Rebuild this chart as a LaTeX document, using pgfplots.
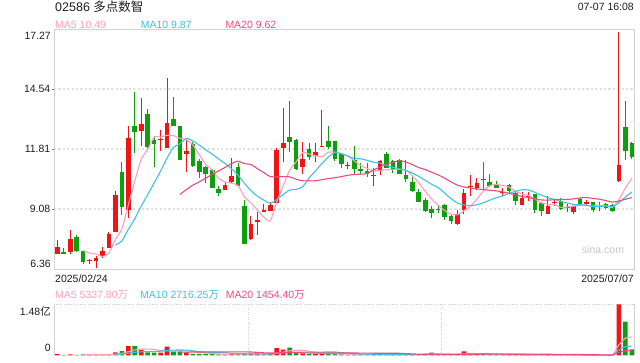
\documentclass[border=0pt]{standalone}
\usepackage{fontspec}
\setmainfont{Liberation Sans}
\newfontfamily\cjk{Noto Sans CJK SC}
\usepackage{pgfplots}
\usepackage{pgfplotstable}
\pgfplotsset{compat=1.18}
\definecolor{cup}{RGB}{240,20,20}
\definecolor{cdn}{RGB}{12,160,12}
\definecolor{cma5}{RGB}{255,160,185}
\definecolor{cma10}{RGB}{60,195,225}
\definecolor{cma20}{RGB}{235,75,125}
\definecolor{cframe}{RGB}{210,210,210}
\definecolor{cgrid}{RGB}{225,225,225}
\definecolor{ctxt}{RGB}{30,30,30}
\newcommand{\lf}{\fontsize{10.5}{12}\selectfont}

% up candles (close >= open): index open high low close
\pgfplotstableread{
i o h l c
0 7.06 7.67 7.05 7.36
2 7.15 8.15 7.06 7.72
5 6.72 6.82 6.57 6.76
6 6.72 6.94 6.42 6.85
7 6.97 7.36 6.85 7.18
8 7.33 8.03 7.30 7.97
9 8.06 9.91 8.03 9.72
11 9.03 12.87 8.67 12.30
13 12.63 14.15 11.94 12.97
16 12.24 12.66 11.72 12.27
17 11.85 15.05 11.85 13.00
20 11.60 12.30 10.76 11.72
26 9.94 10.33 9.94 10.18
27 10.30 11.42 10.27 10.57
30 7.72 8.78 7.70 8.42
31 8.51 8.97 7.91 8.57
32 8.97 9.33 8.97 9.00
33 9.00 9.39 9.00 9.27
34 9.36 11.85 9.33 11.78
35 11.88 13.67 11.21 12.09
38 11.00 12.12 10.67 11.36
40 11.48 12.09 11.24 11.69
41 11.91 13.60 11.91 11.94
45 11.06 11.24 10.91 11.09
49 10.57 10.97 10.15 10.60
50 10.82 11.33 10.64 11.27
62 8.39 9.06 8.36 8.88
63 9.06 10.00 8.85 9.82
64 10.09 10.63 9.70 10.12
65 10.03 10.48 9.97 10.27
69 9.82 10.06 9.70 9.88
72 9.27 9.85 9.27 9.57
73 9.63 9.88 9.45 9.70
76 8.88 9.70 8.85 9.21
77 9.36 9.54 9.21 9.42
79 9.12 9.30 8.97 9.18
80 8.94 9.24 8.88 9.21
82 9.33 9.51 9.24 9.39
84 9.18 9.39 9.00 9.24
87 10.36 17.12 10.33 11.09
}\upT

% down candles (close < open)
\pgfplotstableread{
i o h l c
1 7.12 7.33 7.05 7.06
3 7.82 7.91 7.15 7.18
4 7.18 7.24 6.57 6.69
10 10.78 11.21 8.82 9.18
12 12.85 14.42 11.63 12.60
14 13.42 13.63 11.88 11.91
15 12.24 12.42 11.00 12.03
18 13.18 14.18 12.85 12.87
19 12.85 12.88 11.30 11.33
21 12.03 12.12 11.00 11.06
22 11.27 11.36 10.51 10.78
23 11.00 11.05 10.27 10.69
24 10.85 10.91 10.03 10.06
25 10.00 10.15 9.67 9.82
28 11.00 11.18 10.09 10.12
29 9.24 9.51 7.48 7.51
36 12.36 14.00 11.69 12.12
37 12.21 12.27 10.85 10.91
39 11.82 12.09 11.33 11.45
42 12.18 12.85 11.82 11.91
43 12.18 12.20 11.27 11.36
44 11.60 11.62 10.97 11.15
46 11.30 11.97 10.69 10.91
47 10.91 11.18 10.67 10.82
48 10.82 11.18 10.54 10.67
51 11.60 11.66 10.94 10.97
52 11.27 11.30 10.73 10.91
53 11.30 11.36 10.66 10.69
54 10.63 11.30 10.33 10.45
55 10.33 10.54 9.88 9.91
56 9.85 10.00 9.40 9.42
57 9.48 9.57 8.97 9.00
58 9.09 9.21 8.67 8.91
59 9.09 9.27 8.91 9.06
60 9.27 9.30 8.60 8.73
61 8.78 8.82 8.42 8.54
66 10.45 11.24 10.00 10.39
67 10.33 10.67 10.10 10.15
68 10.24 10.36 10.03 10.06
70 10.18 10.21 9.82 9.91
71 9.82 9.88 9.27 9.45
74 9.76 9.79 8.91 9.06
75 9.36 9.39 8.78 9.00
78 9.45 9.57 9.06 9.09
81 9.54 9.57 9.30 9.33
83 9.39 9.42 8.97 9.03
85 9.30 9.36 9.09 9.15
86 9.27 9.30 8.97 9.00
88 12.82 14.00 11.33 11.72
89 12.09 12.12 11.36 11.45
}\dnT

% moving averages of close
\pgfplotstableread{
i m5 m10 m20
0 nan nan nan
1 nan nan nan
2 nan nan nan
3 nan nan nan
4 7.20 nan nan
5 7.08 nan nan
6 7.04 nan nan
7 6.93 nan nan
8 7.09 nan nan
9 7.70 7.45 nan
10 8.18 7.63 nan
11 9.27 8.16 nan
12 10.35 8.64 nan
13 11.35 9.22 nan
14 11.79 9.74 nan
15 12.36 10.27 nan
16 12.36 10.81 nan
17 12.44 11.40 nan
18 12.42 11.89 nan
19 12.30 12.05 9.75
20 12.24 12.30 9.97
21 12.00 12.18 10.17
22 11.55 11.99 10.32
23 11.12 11.77 10.49
24 10.86 11.58 10.66
25 10.48 11.36 10.82
26 10.31 11.15 10.98
27 10.26 10.91 11.15
28 10.15 10.63 11.26
29 9.64 10.25 11.15
30 9.36 9.92 11.11
31 9.04 9.67 10.92
32 8.72 9.49 10.74
33 8.55 9.35 10.56
34 9.41 9.52 10.55
35 10.14 9.75 10.56
36 10.85 9.95 10.55
37 11.23 9.98 10.44
38 11.65 10.10 10.37
39 11.59 10.50 10.37
40 11.51 10.82 10.37
41 11.47 11.16 10.42
42 11.67 11.45 10.47
43 11.67 11.66 10.51
44 11.61 11.60 10.56
45 11.49 11.50 10.62
46 11.28 11.38 10.66
47 11.07 11.37 10.67
48 10.93 11.30 10.70
49 10.82 11.21 10.86
50 10.85 11.17 11.00
51 10.87 11.08 11.12
52 10.88 10.98 11.21
53 10.89 10.91 11.28
54 10.86 10.84 11.22
55 10.59 10.72 11.11
56 10.28 10.57 10.97
57 9.89 10.39 10.88
58 9.54 10.21 10.76
59 9.26 10.06 10.64
60 9.02 9.81 10.49
61 8.85 9.56 10.32
62 8.82 9.36 10.17
63 9.01 9.27 10.09
64 9.22 9.24 10.04
65 9.53 9.28 10.00
66 9.90 9.37 9.97
67 10.15 9.49 9.94
68 10.20 9.60 9.91
69 10.15 9.68 9.87
70 10.08 9.80 9.80
71 9.89 9.89 9.73
72 9.77 9.96 9.66
73 9.70 9.95 9.61
74 9.54 9.84 9.54
75 9.36 9.72 9.50
76 9.31 9.60 9.49
77 9.28 9.53 9.51
78 9.16 9.43 9.52
79 9.18 9.36 9.52
80 9.22 9.29 9.55
81 9.25 9.28 9.59
82 9.24 9.26 9.61
83 9.23 9.19 9.57
84 9.24 9.21 9.53
85 9.23 9.23 9.47
86 9.16 9.20 9.40
87 9.50 9.37 9.45
88 10.04 9.63 9.53
89 10.48 9.86 9.61
}\maT

% volume (100 million shares)
\pgfplotstableread{
i v
0 .04
2 .03
5 .02
6 .02
7 .02
8 .04
9 .09
11 .27
13 .17
16 .08
17 .26
20 .09
26 .03
27 .05
30 .05
31 .04
32 .03
33 .04
34 .21
35 .17
38 .06
40 .05
41 .06
45 .02
49 .02
50 .04
62 .04
63 .12
64 .04
65 .04
69 .02
72 .02
73 .02
76 .02
77 .01
79 .01
80 .01
82 .01
84 .01
87 1.48
}\upV

\pgfplotstableread{
i v
1 .02
3 .02
4 .03
10 .13
12 .27
14 .09
15 .08
18 .12
19 .12
21 .05
22 .05
23 .04
24 .05
25 .03
28 .05
29 .07
36 .23
37 .09
39 .05
42 .05
43 .04
44 .03
46 .04
47 .02
48 .02
51 .03
52 .02
53 .02
54 .02
55 .03
56 .03
57 .05
58 .08
59 .02
60 .03
61 .03
66 .05
67 .03
68 .02
70 .02
71 .03
74 .02
75 .02
78 .02
81 .01
83 .01
85 .01
86 .02
88 .98
89 .18
}\dnV

\pgfplotstableread{
i a5 a10 a20
0 nan nan nan
1 nan nan nan
2 nan nan nan
3 nan nan nan
4 .028 nan nan
5 .024 nan nan
6 .024 nan nan
7 .022 nan nan
8 .026 nan nan
9 .038 .033 nan
10 .060 .042 nan
11 .110 .067 nan
12 .160 .091 nan
13 .186 .106 nan
14 .186 .112 nan
15 .176 .118 nan
16 .138 .124 nan
17 .136 .148 nan
18 .126 .156 nan
19 .132 .159 .096
20 .134 .155 .099
21 .128 .133 .100
22 .086 .111 .101
23 .070 .098 .102
24 .056 .094 .103
25 .044 .089 .104
26 .040 .084 .104
27 .040 .063 .106
28 .042 .056 .106
29 .046 .051 .105
30 .050 .047 .101
31 .052 .046 .090
32 .048 .044 .078
33 .046 .044 .071
34 .074 .060 .077
35 .098 .074 .082
36 .136 .094 .089
37 .148 .098 .081
38 .152 .099 .078
39 .120 .097 .074
40 .096 .097 .072
41 .062 .099 .073
42 .054 .101 .073
43 .050 .101 .073
44 .046 .083 .072
45 .040 .068 .071
46 .036 .049 .072
47 .030 .042 .070
48 .026 .038 .069
49 .024 .035 .066
50 .028 .034 .066
51 .026 .031 .065
52 .026 .028 .065
53 .026 .026 .064
54 .026 .025 .054
55 .024 .026 .047
56 .024 .025 .037
57 .030 .028 .035
58 .042 .034 .036
59 .042 .034 .035
60 .042 .033 .034
61 .042 .033 .032
62 .040 .035 .032
63 .048 .045 .036
64 .052 .047 .036
65 .054 .048 .037
66 .058 .050 .038
67 .056 .048 .038
68 .036 .042 .038
69 .032 .042 .038
70 .028 .041 .037
71 .024 .041 .037
72 .022 .039 .037
73 .022 .029 .037
74 .022 .027 .037
75 .022 .025 .037
76 .020 .022 .036
77 .018 .020 .034
78 .018 .020 .031
79 .016 .019 .031
80 .014 .018 .030
81 .012 .016 .029
82 .012 .015 .027
83 .010 .014 .022
84 .010 .013 .020
85 .010 .012 .019
86 .012 .012 .017
87 .306 .159 .090
88 .500 .255 .138
89 .534 .272 .146
}\vmaT

\begin{document}
\begin{tikzpicture}
\begin{axis}[
  name=main,
  at={(0pt,0pt)}, anchor=south west,
  scale only axis, width=580pt, height=240pt,
  xmin=-0.51, xmax=89.34, ymin=6.36, ymax=17.27,
  axis line style={cframe, line width=0.8pt},
  xtick=\empty,
  ytick={9.08,11.81,14.54}, yticklabels={9.08,11.81,14.54},
  ytick pos=left, tick align=outside, major tick length=2pt,
  tick style={black!55, line width=0.6pt},
  yticklabel style={font=\lf, text=ctxt, inner sep=0pt, xshift=-1.5pt},
  ymajorgrids, grid style={cgrid, line width=1.4pt, dash pattern=on 2.2pt off 2.2pt},
  unbounded coords=jump,
]
\addplot[forget plot, draw=none, mark=none, error bars/.cd, y dir=plus, y explicit, error mark=none,
  error bar style={draw=cup, line width=1pt}]
  table[x=i, y=l, y error plus expr=\thisrow{h}-\thisrow{l}] {\upT};
\addplot[forget plot, draw=none, mark=none, error bars/.cd, y dir=plus, y explicit, error mark=none,
  error bar style={draw=cdn, line width=1pt}]
  table[x=i, y=l, y error plus expr=\thisrow{h}-\thisrow{l}] {\dnT};
\addplot[forget plot, draw=none, mark=none, error bars/.cd, y dir=plus, y explicit, error mark=none,
  error bar style={draw=cup, line width=4.6pt, line cap=butt}]
  table[x=i, y=o, y error plus expr={max(\thisrow{c}-\thisrow{o},0.05)}] {\upT};
\addplot[forget plot, draw=none, mark=none, error bars/.cd, y dir=plus, y explicit, error mark=none,
  error bar style={draw=cdn, line width=4.6pt, line cap=butt}]
  table[x=i, y=c, y error plus expr={max(\thisrow{o}-\thisrow{c},0.05)}] {\dnT};
\addplot[cma5, line width=1.1pt, mark=none, smooth, tension=0.4] table[x=i, y=m5] {\maT};
\addplot[cma10, line width=1.1pt, mark=none, smooth, tension=0.4] table[x=i, y=m10] {\maT};
\addplot[cma20, line width=1.1pt, mark=none, smooth, tension=0.4] table[x=i, y=m20] {\maT};
\end{axis}

% origin of the 640x360 canvas (main plot's lower-left corner is at (54,91) of it)
\path (main.south west) ++(-54pt,-91pt) coordinate (O);
\path (O) rectangle ++(640pt,360pt);
\path (O) ++(54pt,4.5pt) coordinate (V);

\begin{axis}[
  at={(V)}, anchor=south west,
  scale only axis, width=580pt, height=51.2pt,
  xmin=-0.51, xmax=89.34, ymin=0, ymax=1.48,
  separate axis lines,
  x axis line style={draw=none},
  y axis line style={cframe, line width=0.8pt},
  xtick={29.54,59.44}, xticklabels={},
  ytick=\empty,
  major tick length=0pt,
  xmajorgrids, grid style={cframe, line width=0.8pt, dash pattern=on 1pt off 1.5pt},
  extra y ticks={1.48}, extra y tick labels={},
  extra y tick style={grid=major, grid style={cframe, line width=1pt, dash pattern=on 1.2pt off 1.2pt}},
  unbounded coords=jump,
]
\addplot[ybar, bar width=4.6pt, bar shift=0pt, fill=cup, draw=none] table[x=i, y=v] {\upV};
\addplot[ybar, bar width=4.6pt, bar shift=0pt, fill=cdn, draw=none] table[x=i, y=v] {\dnV};
\addplot[cma5, line width=1.1pt, mark=none, smooth, tension=0.4] table[x=i, y=a5] {\vmaT};
\addplot[cma10, line width=1.1pt, mark=none, smooth, tension=0.4] table[x=i, y=a10] {\vmaT};
\addplot[cma20, line width=1.1pt, mark=none, smooth, tension=0.4] table[x=i, y=a20] {\vmaT};
\end{axis}

\tikzset{lbl/.style={inner sep=0pt, text=ctxt, font=\lf}}
\node[lbl, anchor=west, font=\fontsize{12.5}{14}\selectfont] at ([shift={(55pt,352.8pt)}]O) {02586 {\cjk 多点数智}};
\node[lbl, anchor=east] at ([shift={(634pt,352.7pt)}]O) {07-07 16:08};
\node[lbl, anchor=west, text=cma5] at ([shift={(55pt,335.5pt)}]O) {MA5 10.49};
\node[lbl, anchor=west, text=cma10] at ([shift={(140.7pt,335.5pt)}]O) {MA10 9.87};
\node[lbl, anchor=west, text=cma20] at ([shift={(225.3pt,335.5pt)}]O) {MA20 9.62};
\node[lbl, anchor=east] at ([shift={(51pt,324.3pt)}]O) {17.27};
\node[lbl, anchor=east] at ([shift={(51pt,96.3pt)}]O) {6.36};
\node[lbl, anchor=center, text=black!22] at ([shift={(603pt,110.7pt)}]O) {sina.com};
\node[lbl, anchor=west] at ([shift={(55pt,81.7pt)}]O) {2025/02/24};
\node[lbl, anchor=east] at ([shift={(634pt,81.7pt)}]O) {2025/07/07};
\node[lbl, anchor=west, text=cma5] at ([shift={(55pt,65pt)}]O) {MA5 5337.80{\cjk 万}};
\node[lbl, anchor=west, text=cma10] at ([shift={(140pt,65pt)}]O) {MA10 2716.25{\cjk 万}};
\node[lbl, anchor=west, text=cma20] at ([shift={(225.7pt,65pt)}]O) {MA20 1454.40{\cjk 万}};
\node[lbl, anchor=east] at ([shift={(51pt,48.7pt)}]O) {1.48{\cjk 亿}};
\node[lbl, anchor=east] at ([shift={(51pt,11.7pt)}]O) {0};
\end{tikzpicture}
\end{document}
